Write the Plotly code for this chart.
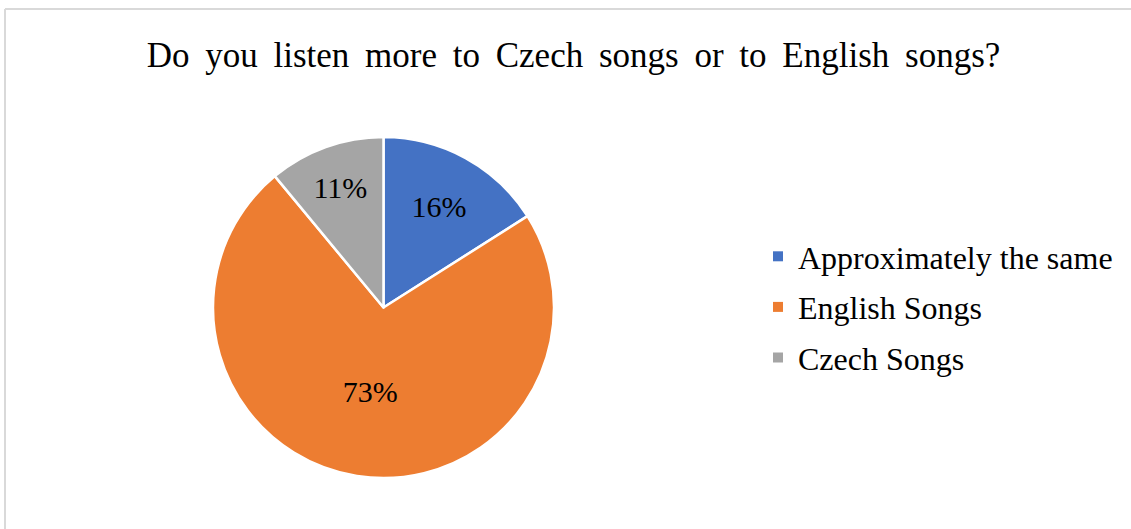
import plotly.graph_objects as go

title = "Do you listen more to Czech songs or to English songs?"
categories = ["Approximately the same", "English Songs", "Czech Songs"]
values = [16, 73, 11]
colors = ["#4472C4", "#ED7D31", "#A5A5A5"]

W, H = 1131, 529
FONT = "Liberation Serif, Times New Roman, serif"

fig = go.Figure()
fig.add_trace(go.Pie(
    labels=categories, values=values, sort=False, direction="clockwise", rotation=0,
    marker=dict(colors=colors, line=dict(color="white", width=2.5)),
    textinfo="percent", texttemplate="%{percent:.0%}",
    textposition="inside", insidetextorientation="horizontal",
    textfont=dict(family=FONT, size=30, color="black"),
    showlegend=False, hoverinfo="label+percent",
    domain=dict(x=[213 / W, 554 / W], y=[(H - 478) / H, (H - 137) / H]),
))

# legend entries (one per category, drawn as square swatches)
for i, (cat, col) in enumerate(zip(categories, colors)):
    fig.add_trace(go.Scatter(
        x=[None], y=[None], mode="markers", name=cat,
        marker=dict(symbol="square", size=10, color=col),
        legendgroup=f"g{i}", showlegend=True, hoverinfo="skip",
    ))

# widen word gaps like the original title
title_text = title.replace(" ", " \u2009")

fig.update_layout(
    width=W, height=H,
    margin=dict(l=0, r=0, t=0, b=0),
    paper_bgcolor="white", plot_bgcolor="white",
    title=dict(text=title_text, x=573.5 / W, xanchor="center", y=1 - 55 / H, yanchor="middle",
               font=dict(family=FONT, size=35, color="black")),
    xaxis=dict(visible=False), yaxis=dict(visible=False),
    legend=dict(x=758 / W, xanchor="left", y=1 - 307 / H, yanchor="middle",
                font=dict(family=FONT, size=32, color="black"),
                tracegroupgap=6, itemclick=False, bgcolor="rgba(0,0,0,0)"),
    shapes=[
        dict(type="line", xref="paper", yref="paper", x0=5 / W, x1=1, y0=1 - 9 / H, y1=1 - 9 / H,
             line=dict(color="#D9D9D9", width=2)),
        dict(type="line", xref="paper", yref="paper", x0=5 / W, x1=5 / W, y0=0, y1=1 - 9 / H,
             line=dict(color="#D9D9D9", width=2)),
    ],
)

fig.write_html("out.html", config={"displayModeBar": False},
               post_script="document.body.style.margin='0px';document.body.style.overflow='hidden';")
